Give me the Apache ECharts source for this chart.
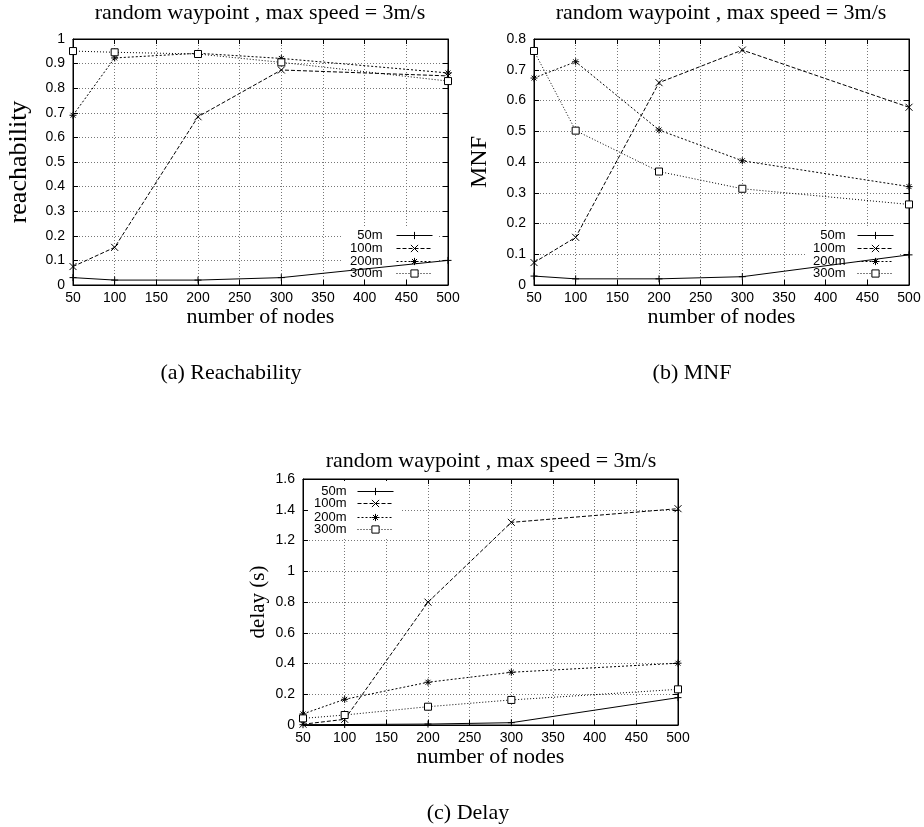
<!DOCTYPE html>
<html>
<head>
<meta charset="utf-8">
<title>random waypoint , max speed = 3m/s</title>
<script src="https://cdn.jsdelivr.net/npm/echarts@6/dist/echarts.min.js"></script>
<style>
  html, body { margin: 0; padding: 0; background: #fff; }
  #main { width: 924px; height: 827px; }
</style>
</head>
<body>
<div id="main"></div>
<script>
// number of nodes on the x axis
var nodes = [50, 100, 200, 300, 500];
var rangeNames = ['50m', '100m', '200m', '300m'];

// (a) reachability
var reach50 = [0.03, 0.02, 0.02, 0.03, 0.1];
var reach100 = [0.075, 0.153, 0.684, 0.874, 0.85];
var reach200 = [0.69, 0.923, 0.942, 0.921, 0.862];
var reach300 = [0.951, 0.946, 0.939, 0.905, 0.829];

// (b) MNF
var mnf50 = [0.029, 0.02, 0.02, 0.027, 0.098];
var mnf100 = [0.073, 0.155, 0.658, 0.764, 0.578];
var mnf200 = [0.673, 0.726, 0.504, 0.404, 0.32];
var mnf300 = [0.761, 0.502, 0.369, 0.313, 0.262];

// (c) delay
var delay50 = [0.002, 0.003, 0.006, 0.015, 0.178];
var delay100 = [0.005, 0.037, 0.799, 1.318, 1.407];
var delay200 = [0.072, 0.167, 0.278, 0.343, 0.402];
var delay300 = [0.043, 0.065, 0.119, 0.163, 0.232];

var titleText = 'random waypoint , max speed = 3m/s';
var captions = ['(a) Reachability', '(b) MNF', '(c) Delay'];

var serif = '"Liberation Serif", "DejaVu Serif", serif';
var sans = '"Liberation Sans", Arial, sans-serif';

// gnuplot-like point types
var symbols = {
  '50m': 'path://M0,5L10,5M5,0L5,10',
  '100m': 'path://M0,0L10,10M0,10L10,0',
  '200m': 'path://M0,5L10,5M5,0L5,10M1.5,1.5L8.5,8.5M1.5,8.5L8.5,1.5',
  '300m': 'path://M0,0L10,0L10,10L0,10Z'
};
var dashes = { '50m': 'solid', '100m': [4, 2], '200m': [2, 2], '300m': [1, 2] };

// plot boxes
var boxes = [
  { left: 73, top: 39, width: 375, height: 246 },
  { left: 534, top: 39, width: 375, height: 246 },
  { left: 303, top: 479, width: 375, height: 246 }
];

function lineSeries(name, values, gi) {
  return {
    name: name,
    type: 'line',
    xAxisIndex: gi * 2,
    yAxisIndex: gi * 2,
    data: nodes.map(function (n, i) { return [n, values[i]]; }),
    symbol: symbols[name],
    symbolSize: 7,
    showSymbol: true,
    lineStyle: { color: '#000', width: 1, type: dashes[name] },
    itemStyle: { color: name === '300m' ? '#fff' : '#000', borderColor: '#000', borderWidth: 1 },
    emphasis: { disabled: true },
    z: 3
  };
}

function keyItem(name, right, top, gap) {
  return {
    data: [name],
    right: right,
    top: top,
    orient: 'vertical',
    align: 'right',
    itemWidth: 36,
    itemHeight: 9,
    padding: 0,
    selectedMode: false,
    textStyle: { fontFamily: sans, fontSize: 13, color: '#000', padding: [0, gap, 0, 0] },
    itemStyle: { borderWidth: 1 },
    lineStyle: { width: 1 }
  };
}

var gridLine = { show: true, lineStyle: { color: '#777', width: 1, type: [1, 2] } };
var blackLine = { onZero: false, lineStyle: { color: '#000', width: 1 } };
var tick = { show: true, inside: true, length: 5, lineStyle: { color: '#000' } };

var xAxes = [], yAxes = [];
var yInfo = [
  { max: 1, interval: 0.1, name: 'reachability', gap: 41, size: 26 },
  { max: 0.8, interval: 0.1, name: 'MNF', gap: 42, size: 24 },
  { max: 1.6, interval: 0.2, name: 'delay (s)', gap: 34, size: 21 }
];
yInfo.forEach(function (info, gi) {
  xAxes.push({
    gridIndex: gi, type: 'value', min: 50, max: 500, interval: 50, position: 'bottom',
    axisLine: blackLine, axisTick: tick, splitLine: gridLine,
    axisLabel: { color: '#000', fontFamily: sans, fontSize: 14, margin: 6 },
    name: 'number of nodes', nameLocation: 'middle', nameGap: 17,
    nameTextStyle: { color: '#000', fontFamily: serif, fontSize: 22 }
  });
  xAxes.push({
    gridIndex: gi, type: 'value', min: 50, max: 500, interval: 50, position: 'top',
    axisLine: blackLine, axisTick: tick, splitLine: { show: false }, axisLabel: { show: false }
  });
  yAxes.push({
    gridIndex: gi, type: 'value', min: 0, max: info.max, interval: info.interval, position: 'left',
    axisLine: blackLine, axisTick: tick, splitLine: gridLine,
    axisLabel: { color: '#000', fontFamily: sans, fontSize: 14, margin: 8 },
    name: info.name, nameLocation: 'middle', nameGap: info.gap,
    nameTextStyle: { color: '#000', fontFamily: serif, fontSize: info.size }
  });
  yAxes.push({
    gridIndex: gi, type: 'value', min: 0, max: info.max, interval: info.interval, position: 'right',
    axisLine: blackLine, axisTick: tick, splitLine: { show: false }, axisLabel: { show: false }
  });
});

var series = [];
[[reach50, reach100, reach200, reach300],
 [mnf50, mnf100, mnf200, mnf300],
 [delay50, delay100, delay200, delay300]].forEach(function (set, gi) {
  set.forEach(function (vals, k) { series.push(lineSeries(rangeNames[k], vals, gi)); });
});

// keys: (a) and (b) bottom right, (c) top left
var legends = [];
var keyRows = [
  { right: 491, tops: [229, 242, 255, 267], gap: 9 },
  { right: 30, tops: [229, 242, 255, 267], gap: 7 },
  { right: 530, tops: [485, 497, 511, 523], gap: 6 }
];
keyRows.forEach(function (k) {
  rangeNames.forEach(function (n, i) { legends.push(keyItem(n, k.right, k.tops[i], k.gap)); });
});

function label(text, x, y, size) {
  return {
    type: 'text', x: x, y: y, silent: true,
    style: {
      text: text, font: size + 'px ' + serif, fill: '#000',
      align: 'center', verticalAlign: 'middle', textAlign: 'center', textVerticalAlign: 'middle'
    }
  };
}
function keyBack(x, y, w, h) {
  return { type: 'rect', z: 1, silent: true, shape: { x: x, y: y, width: w, height: h }, style: { fill: '#fff' } };
}

var chart = echarts.init(document.getElementById('main'), null, { renderer: 'canvas' });
chart.setOption({
  animation: false,
  backgroundColor: '#fff',
  grid: boxes.map(function (b) {
    return { left: b.left, top: b.top, width: b.width, height: b.height, show: true,
      borderColor: '#000', borderWidth: 1, backgroundColor: 'transparent' };
  }),
  xAxis: xAxes,
  yAxis: yAxes,
  legend: legends,
  series: series,
  graphic: [
    keyBack(343, 226, 94, 53),
    keyBack(805, 226, 94, 53),
    keyBack(309, 481, 93, 56),
    label(titleText, 260, 13, 22),
    label(titleText, 721, 13, 22),
    label(titleText, 491, 461, 22),
    label(captions[0], 231, 373, 22),
    label(captions[1], 692, 373, 22),
    label(captions[2], 468, 813, 22)
  ]
});
</script>
</body>
</html>
